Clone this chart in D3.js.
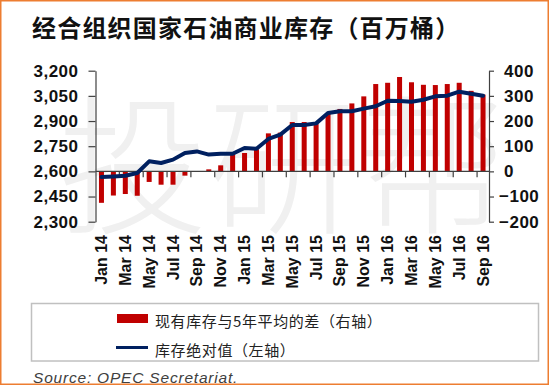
<!DOCTYPE html>
<html>
<head>
<meta charset="utf-8">
<script src="https://cdn.jsdelivr.net/npm/d3@7"></script>
<style>
	body { margin: 0; background: #fff; }
	svg text { font-family: "Liberation Sans", Arial, sans-serif; }
</style>
</head>
<body>
<div id="chart"></div>
<script>
var months = ['Jan 14', 'Feb 14', 'Mar 14', 'Apr 14', 'May 14', 'Jun 14', 'Jul 14', 'Aug 14', 'Sep 14', 'Oct 14', 'Nov 14', 'Dec 14',
	'Jan 15', 'Feb 15', 'Mar 15', 'Apr 15', 'May 15', 'Jun 15', 'Jul 15', 'Aug 15', 'Sep 15', 'Oct 15', 'Nov 15', 'Dec 15',
	'Jan 16', 'Feb 16', 'Mar 16', 'Apr 16', 'May 16', 'Jun 16', 'Jul 16', 'Aug 16', 'Sep 16']

// 现有库存与5年平均的差（右轴）
var diffValues = [-125, -96, -90, -97, -42, -53, -53, -17, 0, 8, 24, 68,
	73, 88, 151, 154, 196, 196, 188, 232, 248, 270, 298, 347,
	352, 375, 354, 344, 343, 347, 352, 320, 305]

// 库存绝对值（左轴）
var stockValues = [2567, 2570, 2574, 2590, 2660, 2650, 2670, 2710, 2719, 2700, 2705, 2705,
	2739, 2735, 2793, 2819, 2876, 2876, 2886, 2948, 2958, 2958, 2974, 2988,
	3021, 3020, 3015, 3027, 3047, 3051, 3075, 3063, 3051]

var leftTicks = [2300, 2450, 2600, 2750, 2900, 3050, 3200]
var rightTicks = [-200, -100, 0, 100, 200, 300, 400]

var title = '经合组织国家石油商业库存（百万桶）'
var legendNames = ['现有库存与5年平均的差（右轴）', '库存绝对值（左轴）']
var source = 'Source: OPEC Secretariat.'

var width = 550,
	height = 386
var plotLeft = 95.5,
	plotRight = 489,
	plotTop = 70.7,
	plotBottom = 221.7

var svg = d3.select('#chart').append('svg')
	.attr('width', width)
	.attr('height', height)

// watermark
svg.append('text')
	.attr('x', 58)
	.attr('y', 156)
	.attr('dominant-baseline', 'central')
	.style('font-family', '"Noto Sans CJK SC"')
	.style('font-size', '150px')
	.style('font-weight', 300)
	.attr('fill', '#f0f0f0')
	.text('投研帮')

// frame
svg.append('rect')
	.attr('x', 0.75)
	.attr('y', 0.75)
	.attr('width', 547.5)
	.attr('height', 383.5)
	.attr('fill', 'none')
	.attr('stroke', '#ED7D31')
	.attr('stroke-width', 1.5)

svg.append('text')
	.attr('x', 32)
	.attr('y', 26)
	.attr('dominant-baseline', 'central')
	.style('font-family', '"Noto Sans CJK SC"')
	.style('font-size', '24px')
	.style('font-weight', 700)
	.style('letter-spacing', '1.2px')
	.attr('fill', '#111')
	.text(title)

var x = d3.scaleBand()
	.range([plotLeft, plotRight])
	.domain(months)
	.paddingInner(0.58)
	.paddingOuter(0.29)

var yLeft = d3.scaleLinear()
	.range([plotBottom, plotTop])
	.domain([2300, 3200])

var yRight = d3.scaleLinear()
	.range([plotBottom, plotTop])
	.domain([-200, 400])

var step = x.step()

// bars
svg.selectAll('.bar')
	.data(diffValues)
	.enter().append('rect')
	.attr('class', 'bar')
	.attr('x', function (d, i) { return x(months[i]) })
	.attr('y', function (d) { return yRight(Math.max(0, d)) })
	.attr('width', x.bandwidth())
	.attr('height', function (d) { return Math.abs(yRight(d) - yRight(0)) })
	.attr('fill', '#C00000')

// zero line with ticks every two months
var zero = yRight(0)
svg.append('line')
	.attr('x1', plotLeft).attr('x2', plotRight)
	.attr('y1', zero).attr('y2', zero)
	.attr('stroke', '#404040')
	.attr('stroke-width', 1.2)

svg.selectAll('.ztick')
	.data(d3.range(2, months.length, 2))
	.enter().append('line')
	.attr('class', 'ztick')
	.attr('x1', function (k) { return plotLeft + k * step })
	.attr('x2', function (k) { return plotLeft + k * step })
	.attr('y1', zero)
	.attr('y2', zero + 6)
	.attr('stroke', '#404040')
	.attr('stroke-width', 1.2)

// line
var line = d3.line()
	.x(function (d, i) { return x(months[i]) + x.bandwidth() / 2 })
	.y(function (d) { return yLeft(d) })

svg.append('path')
	.datum(stockValues)
	.attr('d', line)
	.attr('fill', 'none')
	.attr('stroke', '#002060')
	.attr('stroke-width', 4)
	.attr('stroke-linejoin', 'round')
	.attr('stroke-linecap', 'round')

// axes
var axisLeft = d3.axisLeft(yLeft)
	.tickValues(leftTicks)
	.tickFormat(d3.format(','))
	.tickSize(7)
	.tickSizeOuter(0)
	.tickPadding(10)

var axisRight = d3.axisRight(yRight)
	.tickValues(rightTicks)
	.tickSize(5)
	.tickSizeOuter(0)
	.tickPadding(10)

var gl = svg.append('g')
	.attr('transform', 'translate(' + plotLeft + ',0)')
	.call(axisLeft)

var gr = svg.append('g')
	.attr('transform', 'translate(' + plotRight + ',0)')
	.call(axisRight)

gr.selectAll('.tick text')
	.attr('dx', function (d) { return d < 0 ? -5 : 0 })

svg.selectAll('.domain, .tick line')
	.attr('stroke', '#404040')
	.attr('stroke-width', 1.2)

svg.selectAll('.tick text')
	.style('font-family', '"Liberation Sans", Arial, sans-serif')
	.style('font-size', '17px')
	.style('font-weight', 700)
	.style('letter-spacing', '0.5px')
	.attr('fill', '#111')

// month labels
svg.selectAll('.mlabel')
	.data(months.filter(function (d, i) { return i % 2 == 0 }))
	.enter().append('text')
	.attr('class', 'mlabel')
	.attr('transform', function (d) {
		return 'translate(' + (x(d) + x.bandwidth() / 2) + ',235) rotate(-90)'
	})
	.attr('text-anchor', 'end')
	.attr('dominant-baseline', 'central')
	.style('font-size', '16px')
	.style('font-weight', 700)
	.attr('fill', '#111')
	.text(function (d) { return d })

// legend
svg.append('rect')
	.attr('x', 31.5)
	.attr('y', 303.5)
	.attr('width', 507)
	.attr('height', 57.5)
	.attr('fill', 'none')
	.attr('stroke', '#c0c0c0')
	.attr('stroke-width', 1.5)

svg.append('rect')
	.attr('x', 117)
	.attr('y', 314)
	.attr('width', 31)
	.attr('height', 9)
	.attr('fill', '#C00000')

svg.append('line')
	.attr('x1', 116).attr('x2', 148)
	.attr('y1', 347.5).attr('y2', 347.5)
	.attr('stroke', '#002060')
	.attr('stroke-width', 3)

svg.selectAll('.ltext')
	.data(legendNames)
	.enter().append('text')
	.attr('class', 'ltext')
	.attr('x', 155)
	.attr('y', function (d, i) { return 320 + i * 29.5 })
	.attr('dominant-baseline', 'central')
	.style('font-family', '"Noto Sans CJK SC"')
	.style('font-size', '15px')
	.style('letter-spacing', '0.6px')
	.attr('fill', '#222')
	.text(function (d) { return d })

svg.append('text')
	.attr('x', 33)
	.attr('y', 377)
	.attr('dominant-baseline', 'central')
	.style('font-size', '15.5px')
	.style('font-style', 'italic')
	.style('letter-spacing', '0.8px')
	.attr('fill', '#404040')
	.text(source)
</script>
</body>
</html>
